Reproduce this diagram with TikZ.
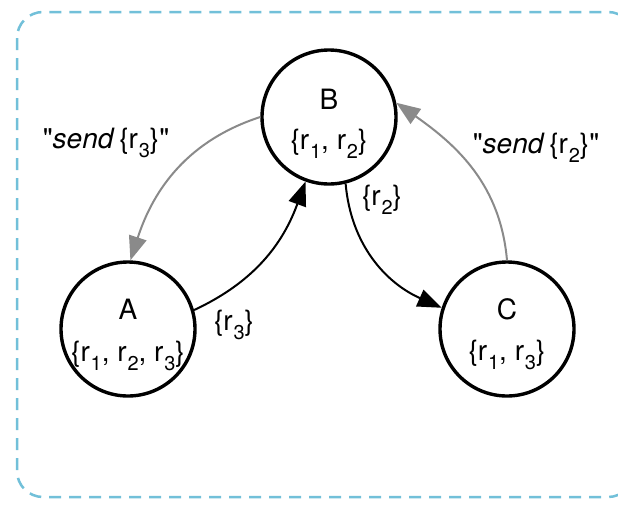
\documentclass[tikz,border=0pt]{standalone}
\usepackage{fontspec}
\setmainfont{TeX Gyre Heros}
\usetikzlibrary{arrows.meta}
\definecolor{boxblue}{HTML}{72C0D9}
\definecolor{msggray}{HTML}{8A8A8A}
% resource with a lowered index
\newcommand\rsub[1]{r\kern0.8pt\raisebox{-0.32em}{\fontsize{20}{20}\selectfont #1}}
\newcommand\sendmsg[1]{\textquotedbl\textit{send}\,\{\rsub{#1}\}\textquotedbl}
\begin{document}
\begin{tikzpicture}[x=1pt,y=1pt,
  state/.style={circle,draw=black,line width=3.4pt,minimum size=134pt,inner sep=0pt},
  nm/.style={font=\fontsize{28}{30}\selectfont,inner sep=0pt},
  txt/.style={font=\fontsize{28}{30}\selectfont,inner sep=0pt},
  flow/.style={draw=black,line width=2pt,-{Triangle[length=24pt,width=18pt]}},
  msg/.style={draw=msggray,line width=2pt,-{Triangle[length=24pt,width=18pt]}},
  region/.style={draw=boxblue,line width=2.5pt,dash pattern=on 12pt off 8pt,rounded corners=26pt}
]
\useasboundingbox (0,0) rectangle (618,-517);
\draw[region] (17,-12) rectangle (634,-497);

% processes
\node[state] (B) at (329,-117) {};
\node[state] (A) at (128,-329) {};
\node[state] (C) at (507,-329) {};

\node[nm] (Bname) at ([yshift=18pt]B.center) {B};
\node[txt] (Bset) at ([yshift=-27pt]B.center) {\{\rsub1, \rsub2\}};
\node[nm] (Aname) at ([yshift=20pt]A.center) {A};
\node[txt] (Aset) at ([yshift=-27pt]A.center) {\{\rsub1, \rsub2, \rsub3\}};
\node[nm] (Cname) at ([yshift=20pt]C.center) {C};
\node[txt] (Cset) at ([yshift=-26pt]C.center) {\{\rsub1, \rsub3\}};

% transfers and requests
\draw[flow] (A.16) to[out=25,in=250] (B.250);
\draw[flow] (B.284) to[out=275,in=156] (C.162);
\draw[msg] (B.180) to[out=198,in=72] (A.88);
\draw[msg] (C.90) to[out=95,in=325] (B.12);

% edge labels
\node[txt] (sendr3) at (106,-143) {\sendmsg3};
\node[txt] (sendr2) at (536,-148) {\sendmsg2};
\node[txt] (lr2) at (382,-200) {\{\rsub2\}};
\node[txt] (lr3) at (234,-325) {\{\rsub3\}};
\end{tikzpicture}
\end{document}
